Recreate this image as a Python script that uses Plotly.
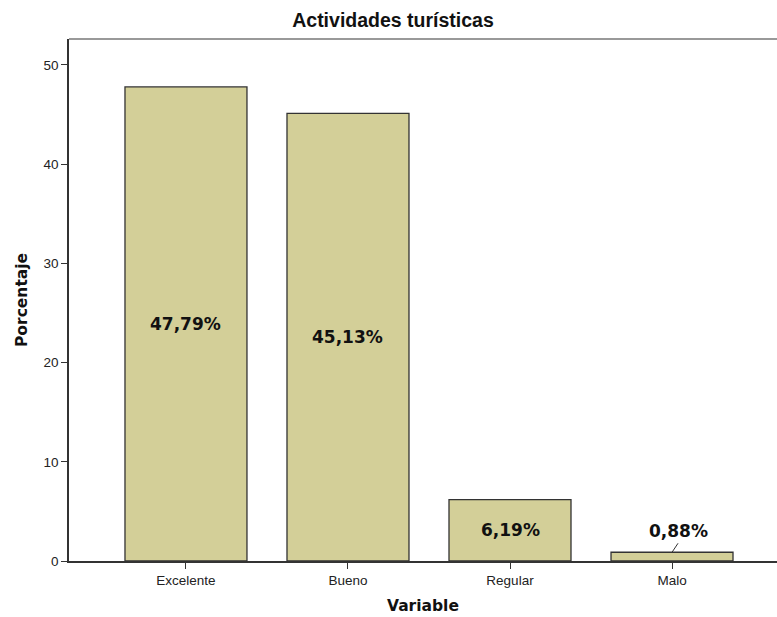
import plotly.graph_objects as go

categories = ["Excelente", "Bueno", "Regular", "Malo"]
values = [47.79, 45.13, 6.19, 0.88]
labels = ["47,79%", "45,13%", "6,19%", "0,88%"]
y_ticks = [0, 10, 20, 30, 40, 50]

LAB_FONT = dict(family="DejaVu Sans", size=17, color="#111111")
TICK_FONT = dict(family="Liberation Sans, Arial", size=13.5, color="#222222")
AX_FONT = dict(family="DejaVu Sans", size=15.5, color="#111111")

fig = go.Figure()
fig.add_trace(go.Bar(
    x=list(range(len(categories))), y=values, width=0.753,
    marker=dict(color="#d3cf98", line=dict(color="#333333", width=1.3)),
    hoverinfo="skip",
))

for i, (v, t) in enumerate(zip(values, labels)):
    if v > 3:
        fig.add_annotation(x=i, y=v / 2, text="<b>" + t + "</b>", showarrow=False, font=LAB_FONT)
    else:
        fig.add_annotation(x=i, y=v, text="<b>" + t + "</b>", showarrow=True, arrowhead=0,
                           arrowwidth=1, arrowcolor="#333333", ax=6, ay=-9,
                           yanchor="bottom", xanchor="center", font=LAB_FONT)

# axis titles
fig.add_annotation(xref="paper", yref="paper", x=(423 - 69) / 708, y=-45 / 522,
                   text="<b>Variable</b>", showarrow=False, font=AX_FONT,
                   xanchor="center", yanchor="middle")
fig.add_annotation(xref="paper", yref="paper", x=(22 - 69) / 708, y=0.5,
                   text="<b>Porcentaje</b>", showarrow=False, font=AX_FONT, textangle=-90,
                   xanchor="center", yanchor="middle")

fig.update_layout(
    width=777, height=617,
    margin=dict(l=69, r=0, t=39, b=56),
    paper_bgcolor="white", plot_bgcolor="white",
    showlegend=False,
    title=dict(text="<b>Actividades turísticas</b>", x=393 / 777, xref="container", xanchor="center",
               y=1 - 20 / 617, yref="container", yanchor="middle",
               font=dict(family="Liberation Sans, Arial", size=19.5, color="#111111")),
    xaxis=dict(range=[-0.722, 3.648], tickmode="array", tickvals=list(range(len(categories))),
               ticktext=categories, ticks="outside", ticklen=6, tickcolor="#333333",
               showline=True, linecolor="#333333", linewidth=1.5, showgrid=False, zeroline=False,
               tickfont=TICK_FONT),
    yaxis=dict(range=[0, 52.62], tickvals=y_ticks, ticks="outside", ticklen=6, tickcolor="#333333",
               showline=True, linecolor="#333333", linewidth=1.5, showgrid=False, zeroline=False,
               tickfont=TICK_FONT),
    shapes=[dict(type="line", xref="paper", yref="paper", x0=0, x1=1, y0=1, y1=1,
                 line=dict(color="#777777", width=1.5))],
)

fig.write_html("out.html", config={"displayModeBar": False},
               post_script="document.body.style.margin='0';")
